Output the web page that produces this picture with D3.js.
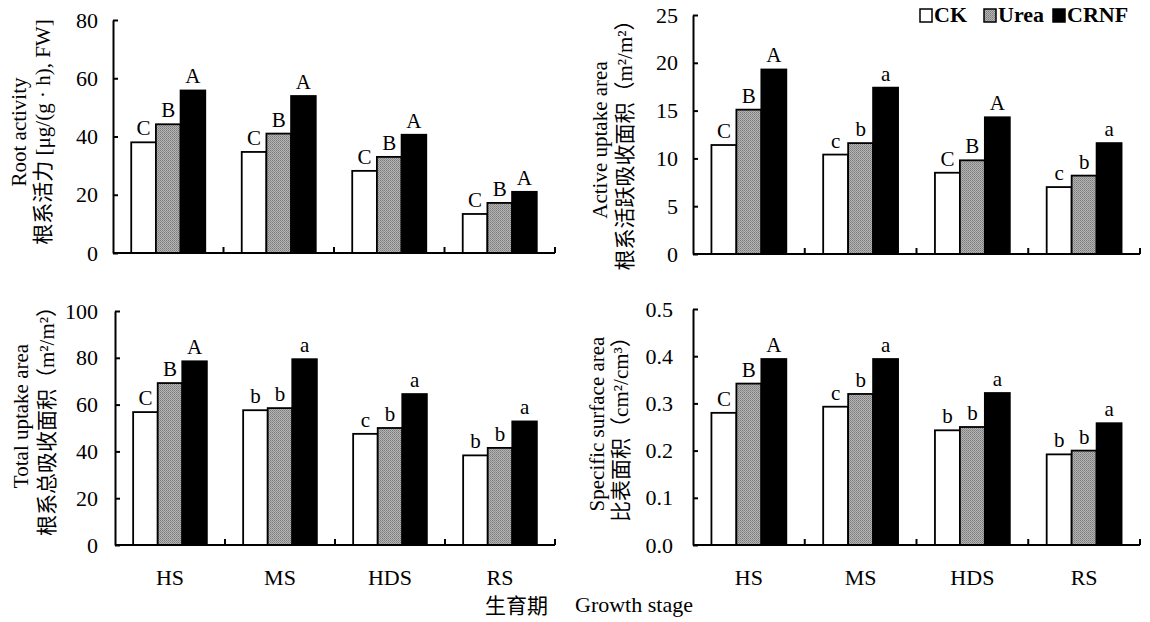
<!DOCTYPE html>
<html>
<head>
<meta charset="utf-8">
<script src="https://cdn.jsdelivr.net/npm/d3@7"></script>
<style>
body {margin:0; background:#fff;}
text {font-family:"Liberation Serif","Times New Roman","Noto Sans CJK SC",serif; fill:#000;}
</style>
</head>
<body>
<div id="chart"></div>
<script>
// categories and series
var stages = ["HS", "MS", "HDS", "RS"];
var treatments = ["CK", "Urea", "CRNF"];

// values per stage: [CK, Urea, CRNF]
var rootActivity = [[38, 44.2, 55.8], [34.7, 41, 53.9], [28.2, 33, 40.6], [13.4, 17.2, 21]];
var activeArea   = [[11.4, 15.1, 19.3], [10.4, 11.6, 17.4], [8.5, 9.8, 14.3], [7.0, 8.2, 11.6]];
var totalArea    = [[56.8, 69.2, 78.5], [57.6, 58.5, 79.4], [47.5, 50, 64.5], [38.3, 41.5, 52.8]];
var specArea     = [[0.28, 0.342, 0.394], [0.293, 0.32, 0.394], [0.243, 0.25, 0.322], [0.192, 0.2, 0.258]];

// significance letters
var rootActivitySig = [["C","B","A"], ["C","B","A"], ["C","B","A"], ["C","B","A"]];
var activeAreaSig   = [["C","B","A"], ["c","b","a"], ["C","B","A"], ["c","b","a"]];
var totalAreaSig    = [["C","B","A"], ["b","b","a"], ["c","b","a"], ["b","b","a"]];
var specAreaSig     = [["C","B","A"], ["c","b","a"], ["b","b","a"], ["b","b","a"]];

// tick values
var rootTicks = [0, 20, 40, 60, 80];
var activeTicks = [0, 5, 10, 15, 20, 25];
var totalTicks = [0, 20, 40, 60, 80, 100];
var specTicks = [0, 0.1, 0.2, 0.3, 0.4, 0.5];

var width = 1150, height = 622;
var svg = d3.select("#chart").append("svg")
    .attr("width", width)
    .attr("height", height);

// stippled grey fill for Urea
var defs = svg.append("defs");
var pat = defs.append("pattern")
    .attr("id", "grey")
    .attr("patternUnits", "userSpaceOnUse")
    .attr("width", 2).attr("height", 2);
pat.append("rect").attr("width", 2).attr("height", 2).attr("fill", "#b4b4b4");
pat.append("rect").attr("width", 1).attr("height", 1).attr("fill", "#7c7c7c");
pat.append("rect").attr("x", 1).attr("y", 1).attr("width", 1).attr("height", 1).attr("fill", "#8e8e8e");

var fills = ["#fff", "url(#grey)", "#000"];

var panels = [
  {vals: rootActivity, sig: rootActivitySig, max: 80, ticks: rootTicks, fmt: d3.format("d"),
   x0: 113, x1: 555, y0: 20, y1: 253, pad: 15,
   title: ["Root activity", "根系活力 [μg/(g · h), FW]"], tx: [19, 43], ty: 132, cats: false},
  {vals: activeArea, sig: activeAreaSig, max: 25, ticks: activeTicks, fmt: d3.format("d"),
   x0: 693, x1: 1140, y0: 15, y1: 254, pad: 15,
   title: ["Active uptake area", "根系活跃吸收面积（m²/m²）"], tx: [600, 625], ty: 140, cats: false},
  {vals: totalArea, sig: totalAreaSig, max: 100, ticks: totalTicks, fmt: d3.format("d"),
   x0: 115, x1: 555, y0: 311, y1: 545, pad: 17,
   title: ["Total uptake area", "根系总吸收面积（m²/m²）"], tx: [21, 47], ty: 416, cats: true},
  {vals: specArea, sig: specAreaSig, max: 0.5, ticks: specTicks, fmt: d3.format(".1f"),
   x0: 693, x1: 1140, y0: 309, y1: 545, pad: 20,
   title: ["Specific surface area", "比表面积（cm²/cm³）"], tx: [597, 621], ty: 424, cats: true}
];

panels.forEach(function(p) {
  var g = svg.append("g");

  var x = d3.scaleBand().domain(stages).range([p.x0, p.x1])
      .paddingInner(0.33).paddingOuter(0.165);
  var xs = d3.scaleBand().domain(treatments).range([0, x.bandwidth()]);
  var y = d3.scaleLinear().domain([0, p.max]).range([p.y1, p.y0]);

  // bars
  stages.forEach(function(s, i) {
    g.selectAll(".bar-" + i)
      .data(p.vals[i])
      .enter()
      .append("rect")
      .attr("x", function(d, j) { return x(s) + xs(treatments[j]); })
      .attr("y", function(d) { return y(d); })
      .attr("width", xs.bandwidth())
      .attr("height", function(d) { return p.y1 - y(d); })
      .attr("fill", function(d, j) { return fills[j]; })
      .attr("stroke", "#000")
      .attr("stroke-width", 1.8);

    g.selectAll(".sig-" + i)
      .data(p.vals[i])
      .enter()
      .append("text")
      .attr("x", function(d, j) { return x(s) + xs(treatments[j]) + xs.bandwidth() / 2; })
      .attr("y", function(d) { return y(d) - 7; })
      .attr("text-anchor", "middle")
      .style("font-size", "21px")
      .text(function(d, j) { return p.sig[i][j]; });
  });

  // y axis, ticks pointing inward
  var ya = g.append("g")
      .attr("transform", "translate(" + p.x0 + ",0)")
      .call(d3.axisLeft(y).tickValues(p.ticks).tickFormat(p.fmt)
        .tickSizeInner(-5).tickSizeOuter(0).tickPadding(p.pad));
  ya.select(".domain").attr("stroke-width", 2);
  ya.selectAll(".tick line").attr("stroke-width", 2);
  ya.selectAll("text").style("font-size", "22px").attr("fill", "#000");

  // x axis line with small upward ticks between stages
  g.append("line")
    .attr("x1", p.x0).attr("x2", p.x1)
    .attr("y1", p.y1).attr("y2", p.y1)
    .attr("stroke", "#000").attr("stroke-width", 2);
  var gap = x.step() * x.paddingInner() / 2;
  var bounds = stages.slice(1).map(function(s) { return x(s) - gap; }).concat([p.x1]);
  g.selectAll(".xtick")
    .data(bounds)
    .enter()
    .append("line")
    .attr("x1", function(d) { return d; }).attr("x2", function(d) { return d; })
    .attr("y1", p.y1).attr("y2", p.y1 - 6)
    .attr("stroke", "#000").attr("stroke-width", 2);

  if (p.cats) {
    g.selectAll(".cat")
      .data(stages)
      .enter()
      .append("text")
      .attr("x", function(d) { return x(d) + x.bandwidth() / 2; })
      .attr("y", 585)
      .attr("text-anchor", "middle")
      .style("font-size", "22px")
      .text(function(d) { return d; });
  }

  // y titles, two lines
  p.title.forEach(function(t, k) {
    g.append("text")
      .attr("transform", "translate(" + p.tx[k] + "," + p.ty + ") rotate(-90)")
      .attr("text-anchor", "middle")
      .attr("dominant-baseline", "central")
      .style("font-size", "21px")
      .text(t);
  });
});

// shared x title
svg.append("text")
  .attr("x", 485).attr("y", 613)
  .style("font-size", "21px")
  .text("生育期");
svg.append("text")
  .attr("x", 575).attr("y", 612)
  .style("font-size", "22px")
  .text("Growth stage");

// legend
var legX = [920, 984, 1053];
var leg = svg.selectAll(".leg")
    .data(treatments)
    .enter()
    .append("g")
    .attr("transform", function(d, i) { return "translate(" + legX[i] + ",9)"; });
leg.append("rect")
    .attr("width", 12).attr("height", 13)
    .attr("fill", function(d, i) { return fills[i]; })
    .attr("stroke", "#000").attr("stroke-width", 1.5);
leg.append("text")
    .attr("x", 14).attr("y", 13)
    .style("font-size", "22px")
    .style("font-weight", "bold")
    .text(function(d) { return d; });
</script>
</body>
</html>
